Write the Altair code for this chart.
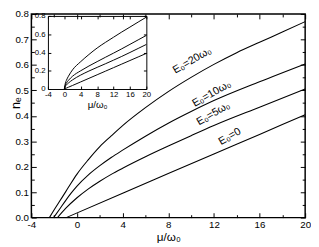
import altair as alt
import pandas as pd

# ---------------- main panel: n_e versus mu/omega0 ----------------
curve_names = ["E0=0", "E0=5", "E0=10", "E0=20"]

mu_e0 = [-0.95, 4, 8, 12, 16, 20]
n_e0 = [0.0, 0.096, 0.173, 0.25, 0.327, 0.404]

mu_e5 = [-1.71, -1, 0, 1, 2, 3, 4, 6, 8, 10, 12, 16, 20]
n_e5 = [0.0, 0.036, 0.078, 0.113, 0.143, 0.17, 0.194, 0.239, 0.281, 0.322, 0.362, 0.434, 0.505]

mu_e10 = [-2.05, -1.5, -1, -0.5, 0, 1, 2, 3, 4, 6, 8, 10, 12, 16, 20]
n_e10 = [0.0, 0.035, 0.067, 0.097, 0.124, 0.168, 0.204, 0.236, 0.265, 0.32, 0.371, 0.417, 0.46, 0.534, 0.604]

mu_e20 = [-2.42, -2, -1.5, -1, -0.5, 0, 1, 2, 3, 4, 6, 8, 10, 12, 14, 16, 18, 20]
n_e20 = [0.0, 0.031, 0.066, 0.101, 0.137, 0.171, 0.228, 0.279, 0.321, 0.3615, 0.432, 0.495,
         0.551, 0.602, 0.648, 0.689, 0.729, 0.77]

# curve labels (anchored in data coordinates)
label_text = ["E₀=20ω₀", "E₀=10ω₀", "E₀=5ω₀", "E₀=0"]
label_mu = [10.1, 11.8, 11.95, 13.4]
label_n = [0.617, 0.486, 0.408, 0.318]

# ---------------- inset ----------------
inset_mu = [0, 0.25, 0.5, 1, 2, 4, 6, 8, 10, 12, 14, 16, 18, 20]
inset_e20 = [0.0, 0.065, 0.095, 0.14, 0.21, 0.30, 0.378, 0.449, 0.51, 0.567, 0.624, 0.678, 0.733, 0.787]
inset_e10 = [0.0, 0.045, 0.065, 0.095, 0.14, 0.2, 0.252, 0.3, 0.347, 0.393, 0.44, 0.489, 0.538, 0.587]
inset_e5 = [0.0, 0.03, 0.045, 0.066, 0.1, 0.153, 0.197, 0.237, 0.276, 0.316, 0.357, 0.4, 0.444, 0.488]
inset_e0 = [0.0, 0.005, 0.01, 0.02, 0.039, 0.078, 0.117, 0.156, 0.195, 0.234, 0.273, 0.312, 0.351, 0.39]

# tick values
x_major = [-4, 0, 4, 8, 12, 16, 20]
x_minor = [-2, 2, 6, 10, 14, 18]
y_major = [0.0, 0.1, 0.2, 0.3, 0.4, 0.5, 0.6, 0.7, 0.8]
y_minor = [0.05, 0.15, 0.25, 0.35, 0.45, 0.55, 0.65, 0.75]
iy_major = [0.0, 0.2, 0.4, 0.6, 0.8]

rows = []
for name, mus, ns in zip(curve_names, [mu_e0, mu_e5, mu_e10, mu_e20], [n_e0, n_e5, n_e10, n_e20]):
    rows += [{"curve": name, "mu": m, "n": v} for m, v in zip(mus, ns)]
main_df = pd.DataFrame(rows)

irows = []
for name, ns in zip(curve_names, [inset_e0, inset_e5, inset_e10, inset_e20]):
    irows += [{"curve": name, "mu": m, "n": v} for m, v in zip(inset_mu, ns)]
inset_df = pd.DataFrame(irows)

lab_df = pd.DataFrame({"label": label_text, "mu": label_mu, "n": label_n})

W, H = 281, 209
FONT = "Liberation Sans"

x_main = alt.Scale(domain=[-4, 20], nice=False, zero=False)
y_main = alt.Scale(domain=[0, 0.8], nice=False, zero=False)
# inset placed inside the plot area (pixel range within the plot)
IX0, IX1, IYB, IYT = 17, 118, 77, 2
x_in = alt.Scale(domain=[-4, 20], range=[IX0, IX1], nice=False, zero=False)
y_in = alt.Scale(domain=[0, 0.8], range=[IYB, IYT], nice=False, zero=False)


def tick_axis(orient, values, offset, size, domain=False):
    return alt.Axis(orient=orient, values=values, offset=offset, labels=False,
                    domain=domain, domainColor="black", domainWidth=1,
                    grid=False, title=None, ticks=True, tickSize=size,
                    tickColor="black", tickWidth=1)


def ghost(df, xs, ys, xaxis, yaxis):
    return alt.Chart(df).mark_point(opacity=0).encode(
        x=alt.X("mu:Q", scale=xs, axis=xaxis),
        y=alt.Y("n:Q", scale=ys, axis=yaxis),
    )


lines = alt.Chart(main_df).mark_line(color="black", strokeWidth=1.1, interpolate="monotone").encode(
    x=alt.X("mu:Q", scale=x_main, axis=alt.Axis(
        orient="bottom", values=x_major, labelExpr="'' + datum.value", ticks=False,
        domain=False, grid=False, labelFlush=False, labelOverlap=False, labelPadding=2,
        labelFontSize=10, title="μ/ω₀", titleFontSize=12, titleY=24,
        titleBaseline="alphabetic", titleFontWeight="normal")),
    y=alt.Y("n:Q", scale=y_main, axis=alt.Axis(
        orient="left", values=y_major, format=".1f", ticks=False, domain=False, grid=False,
        labelPadding=3, labelFontSize=10, title="nₑ", titleFontSize=13, titleAngle=270,
        titleX=-16, titleY=91, titleAlign="center", titleBaseline="middle",
        titleFontWeight="normal")),
    detail="curve:N",
)

t_bottom_left_major = ghost(main_df, x_main, y_main,
                            tick_axis("top", x_major, -H, 5), tick_axis("right", y_major, -W, 5))
t_bottom_left_minor = ghost(main_df, x_main, y_main,
                            tick_axis("top", x_minor, -H, 3), tick_axis("right", y_minor, -W, 3))
t_top_right_major = ghost(main_df, x_main, y_main,
                          tick_axis("bottom", x_major, -H, 5), tick_axis("left", y_major, -W, 5))
t_top_right_minor = ghost(main_df, x_main, y_main,
                          tick_axis("bottom", x_minor, -H, 3), tick_axis("left", y_minor, -W, 3))

labels = alt.Chart(lab_df).mark_text(angle=330, fontSize=11, font=FONT, color="black").encode(
    x=alt.X("mu:Q", scale=x_main, axis=None),
    y=alt.Y("n:Q", scale=y_main, axis=None),
    text="label:N",
)

main = alt.layer(lines, t_bottom_left_major, t_bottom_left_minor, t_top_right_major,
                 t_top_right_minor, labels).resolve_axis(x="independent", y="independent")

inset_lines = alt.Chart(inset_df).mark_line(color="black", strokeWidth=1, interpolate="monotone").encode(
    x=alt.X("mu:Q", scale=x_in, axis=alt.Axis(
        orient="bottom", offset=-(H - IYB), values=x_major, labelExpr="'' + datum.value",
        ticks=False, domain=True, domainColor="black", domainWidth=1, grid=False,
        labelFlush=False, labelOverlap=False, labelPadding=2, labelFontSize=8,
        title="μ/ω₀", titleFontSize=10, titleY=19, titleBaseline="alphabetic",
        titleFontWeight="normal")),
    y=alt.Y("n:Q", scale=y_in, axis=alt.Axis(
        orient="left", offset=-IX0, values=iy_major,
        labelExpr="datum.value == 0 ? '0' : format(datum.value, '.1f')",
        ticks=False, domain=True, domainColor="black", domainWidth=1, grid=False,
        labelPadding=3, labelFontSize=8, title=None)),
    detail="curve:N",
)
it_inner = ghost(inset_df, x_in, y_in,
                 tick_axis("top", x_major, -IYB, 3), tick_axis("right", iy_major, -(W - IX0), 3))
it_outer = ghost(inset_df, x_in, y_in,
                 tick_axis("bottom", x_major, -(H - IYT), 3, domain=True),
                 tick_axis("left", iy_major, -IX1, 3, domain=True))

inset = alt.layer(inset_lines, it_inner, it_outer).resolve_axis(x="independent", y="independent")

chart = alt.layer(main, inset).resolve_scale(x="independent", y="independent").properties(
    width=W, height=H,
    padding={"left": 24, "top": 3, "right": 6, "bottom": 27},
    autosize=alt.AutoSizeParams(type="none"),
).configure_view(stroke="black", strokeWidth=1.5).configure_axis(
    labelFont=FONT, titleFont=FONT, labelColor="black", titleColor="black",
    domainColor="black", tickColor="black",
)

chart.save("out.html", embed_options={"renderer": "svg", "actions": False})
